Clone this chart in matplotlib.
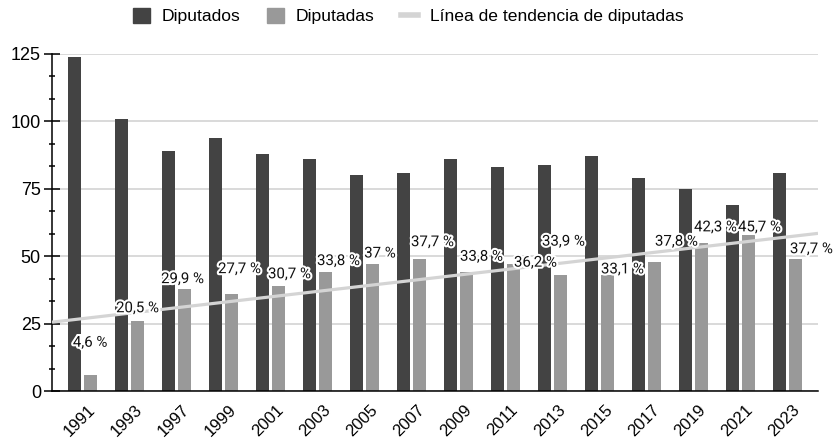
import numpy as np
import matplotlib
matplotlib.use("Agg")
import matplotlib.pyplot as plt
import matplotlib.patheffects as pe
from matplotlib.patches import Patch
from matplotlib.lines import Line2D
from matplotlib.ticker import MultipleLocator
import matplotlib.transforms as mtransforms

plt.rcParams['font.family'] = ['Liberation Sans', 'DejaVu Sans']

# datos
anios = ['1991', '1993', '1997', '1999', '2001', '2003', '2005', '2007',
         '2009', '2011', '2013', '2015', '2017', '2019', '2021', '2023']
diputados = [124, 101, 89, 94, 88, 86, 80, 81, 86, 83, 84, 87, 79, 75, 69, 81]
diputadas = [6, 26, 38, 36, 39, 44, 47, 49, 44, 47, 43, 43, 48, 55, 58, 49]
porcentajes = ['4,6 %', '20,5 %', '29,9 %', '27,7 %', '30,7 %', '33,8 %', '37 %', '37,7 %',
               '33,8 %', '36,2 %', '33,9 %', '33,1 %', '37,8 %', '42,3 %', '45,7 %', '37,7 %']

# donde quedan las etiquetas (desplazamiento en px, altura en unidades del eje)
etiq_dx = [7.5, 8, 6, 16, 19, 21, 15.5, 21, 23, 30, 11, 23, 30, 22, 19, 24]
etiq_y = [17.9, 30.7, 41.5, 45.2, 43.3, 48.2, 51.0, 55.2, 49.8, 47.6, 55.4, 45.1, 55.4, 60.7, 60.7, 52.6]

c_hombres = '#434343'
c_mujeres = '#999999'
c_tend = '#d4d4d4'

fig = plt.figure(figsize=(8.36, 4.41), dpi=100)
ax = fig.add_axes([52/836, 50/441, 766/836, 337/441])

x = np.arange(len(anios))
w = 0.28
ax.bar(x - 0.17, diputados, w, color=c_hombres, zorder=2)
ax.bar(x + 0.17, diputadas, w, color=c_mujeres, zorder=2)

# linea de tendencia (regresion lineal)
xl = np.array([-0.65, len(anios) - 0.35])
m, b = np.polyfit(x, diputadas, 1)
ax.plot(xl, m * xl + b, color=c_tend, lw=2.3, zorder=3, solid_capstyle='butt')

for i, txt in enumerate(porcentajes):
    ax.annotate(txt, xy=(i, etiq_y[i]), xytext=(etiq_dx[i] * 0.72, 0),
                textcoords='offset points', ha='center', va='center',
                fontsize=10.8, family='Roboto', color='#111111', zorder=5,
                path_effects=[pe.withStroke(linewidth=3, foreground='white')])

ax.set_xlim(-0.65, len(anios) - 0.35)
ax.set_ylim(0, 125)
ax.yaxis.set_major_locator(MultipleLocator(25))
ax.yaxis.set_minor_locator(MultipleLocator(25 / 3))
ax.grid(axis='y', color='#cfcfcf', lw=1.1, zorder=0)
ax.set_axisbelow(True)
ax.tick_params(axis='y', which='major', direction='inout', length=12, width=1.1,
               labelsize=13, pad=2)
ax.tick_params(axis='y', which='minor', direction='inout', length=5, width=1.1)
ax.tick_params(axis='x', length=0, labelsize=12, pad=8)
ax.set_xticks(x)
ax.set_xticklabels(anios, rotation=45, ha='right', rotation_mode='anchor')
off = mtransforms.ScaledTranslation(5/100, 0, fig.dpi_scale_trans)
for lab in ax.get_xticklabels():
    lab.set_transform(lab.get_transform() + off)

for s in ['top', 'right']:
    ax.spines[s].set_visible(False)
ax.spines['left'].set_linewidth(1.1)
ax.spines['bottom'].set_linewidth(1.1)

handles = [Patch(color=c_hombres), Patch(color=c_mujeres),
           Line2D([0], [0], color=c_tend, lw=4)]
fig.legend(handles, ['Diputados', 'Diputadas', 'Línea de tendencia de diputadas'],
           loc='center', bbox_to_anchor=(408/836, 1 - 16/441), ncol=3, frameon=False,
           fontsize=12.6, handlelength=1.0, handleheight=1.0, handletextpad=0.65,
           columnspacing=1.5)

fig.savefig('out.png', dpi=100)
